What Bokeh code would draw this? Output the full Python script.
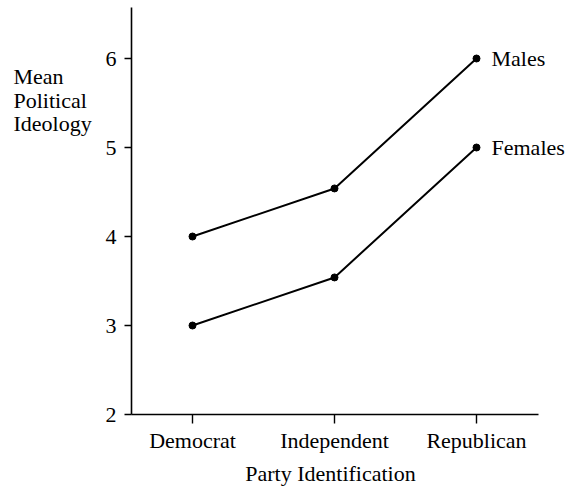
from bokeh.plotting import figure
from bokeh.models import Range1d, FixedTicker, Label, LabelSet, ColumnDataSource
from bokeh.embed import file_html
from bokeh.resources import INLINE

# ---- data ----
categories = ["Democrat", "Independent", "Republican"]
males = [4.0, 4.54, 6.0]
females = [3.0, 3.54, 5.0]
series_names = ["Males", "Females"]
y_ticks = [2, 3, 4, 5, 6]
y_title_lines = ["Mean", "Political", "Ideology"]
x_title = "Party Identification"

FONT = "Liberation Serif"
FS = "22px"
W, H = 568, 486

# pixel geometry of the reference (canvas px, from top-left)
X0_PX, X_STEP = 192.0, 142.0       # first category position, px per category
Y2_PX, Y_STEP = 414.0, 89.0        # y = 2 position, px per unit
AX_LEFT_PX, AX_RIGHT_PX, AX_TOP_PX = 131.0, 538.0, 7.0
LABEL_SHIFT = 7.0                  # Bokeh draws alphabetic-baseline labels a little low


def dx(px):
    return (px - X0_PX) / X_STEP


def dy(py):
    return 2.0 + (Y2_PX - py) / Y_STEP


p = figure(width=W, height=H, output_backend="svg", toolbar_location=None,
           x_range=Range1d(dx(0), dx(W)), y_range=Range1d(dy(H), dy(0)),
           min_border=0, min_border_left=0, min_border_right=0,
           min_border_top=0, min_border_bottom=0)
p.xgrid.visible = False
p.ygrid.visible = False
p.outline_line_color = None
p.background_fill_color = "white"
p.border_fill_color = "white"

xi = list(range(len(categories)))

for ax in (p.xaxis[0], p.yaxis[0]):
    ax.axis_line_width = 1.6
    ax.axis_line_color = "black"
    ax.major_tick_line_color = "black"
    ax.major_tick_line_width = 1.4
    ax.minor_tick_line_color = None
    ax.major_tick_in = 0
    ax.major_label_text_font = FONT
    ax.major_label_text_font_size = FS
    ax.major_label_text_color = "black"

p.xaxis.fixed_location = y_ticks[0]
p.xaxis.bounds = (dx(AX_LEFT_PX), dx(AX_RIGHT_PX))
p.xaxis.ticker = FixedTicker(ticks=xi)
p.xaxis.major_label_overrides = {i: c for i, c in zip(xi, categories)}
p.xaxis.major_tick_out = 9
p.xaxis.major_label_standoff = 4

p.yaxis.fixed_location = dx(AX_LEFT_PX)
p.yaxis.bounds = (y_ticks[0], dy(AX_TOP_PX))
p.yaxis.ticker = FixedTicker(ticks=y_ticks)
p.yaxis.major_tick_out = 7
p.yaxis.major_label_standoff = 8

for ys in (males, females):
    p.line(xi, ys, line_color="black", line_width=2)
    p.scatter(xi, ys, size=7, fill_color="black", line_color="black")

src = ColumnDataSource(dict(x=[xi[-1], xi[-1]], y=[males[-1], females[-1]], t=series_names))
p.add_layout(LabelSet(x="x", y="y", text="t", source=src, x_offset=15,
                      text_baseline="middle", text_align="left",
                      text_font=FONT, text_font_size=FS, text_color="black"))

for i, line in enumerate(y_title_lines):
    p.add_layout(Label(x=dx(13), y=dy(83 - LABEL_SHIFT + 23.5 * i), text=line,
                       text_baseline="alphabetic", text_align="left",
                       text_font=FONT, text_font_size=FS, text_color="black"))

p.add_layout(Label(x=dx(330), y=dy(480 - LABEL_SHIFT), text=x_title,
                   text_baseline="alphabetic", text_align="center",
                   text_font=FONT, text_font_size=FS, text_color="black"))

open("out.html", "w").write(file_html(p, INLINE))
